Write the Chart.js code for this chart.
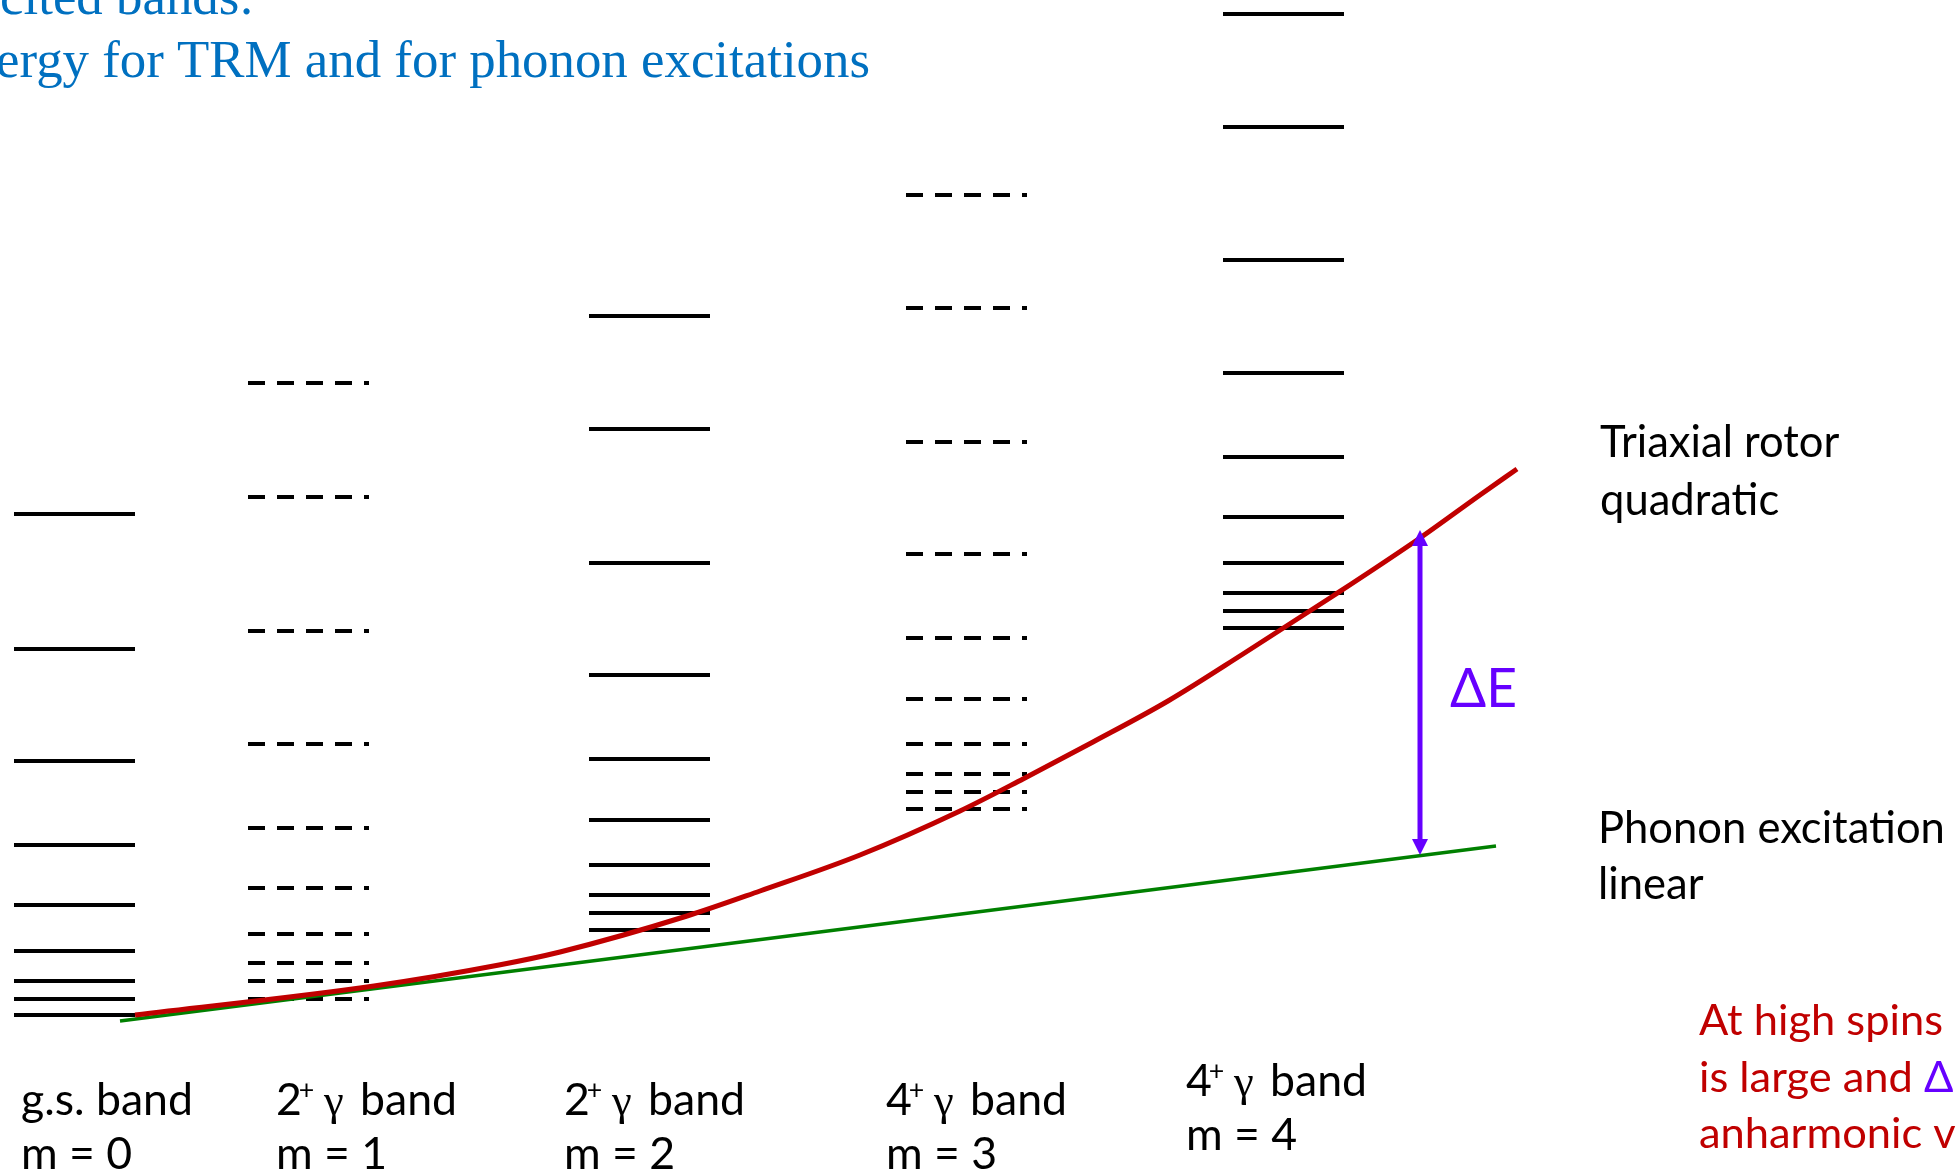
<!DOCTYPE html>
<html lang="en">
<head>
<meta charset="utf-8">
<title>Triaxial rotor vs phonon excitation</title>
<script src="https://cdn.jsdelivr.net/npm/chart.js@4.4.1/dist/chart.umd.min.js"></script>
<style>
  html, body { margin: 0; padding: 0; background: #fff; overflow: hidden; }
  #holder { width: 1956px; height: 1175px; }
</style>
</head>
<body>
<div id="holder"><canvas id="levels" width="1956" height="1175"></canvas></div>
<script>
// bands (columns) of the level scheme
var bandNames = ['g.s. band', '2+ γ band', '2+ γ band', '4+ γ band', '4+ γ band'];
var bandM = [0, 1, 2, 3, 4];
var bandCenter = [0.745, 3.085, 6.495, 9.665, 12.835];
var bandDashed = [false, true, false, true, false];

// level energies (arb. units), bottom to top
var levels0 = [0.00, 0.16, 0.34, 0.64, 1.10, 1.70, 2.54, 3.66, 5.01];
var levels1 = [0.16, 0.34, 0.52, 0.81, 1.27, 1.87, 2.71, 3.84, 5.18, 6.32];
var levels2 = [0.85, 1.02, 1.20, 1.50, 1.95, 2.56, 3.40, 4.52, 5.86, 6.99];
var levels3 = [2.06, 2.23, 2.41, 2.71, 3.16, 3.77, 4.61, 5.73, 7.07, 8.20];
var levels4 = [3.87, 4.04, 4.22, 4.52, 4.98, 5.58, 6.42, 7.55, 8.88, 10.01];
var bandLevels = [levels0, levels1, levels2, levels3, levels4];

// phonon excitation (linear) and triaxial rotor (quadratic) curves
var phononX = [1.20, 14.96];
var phononE = [-0.06, 1.69];
var rotorX = [1.35, 3.74, 4.99, 5.60, 6.87, 7.60, 8.60, 9.60, 10.23, 10.93, 11.68, 12.43, 13.33, 14.20, 14.80, 15.17];
var rotorE = [0.00, 0.29, 0.50, 0.63, 0.99, 1.24, 1.60, 2.04, 2.36, 2.73, 3.14, 3.61, 4.19, 4.77, 5.20, 5.46];

// Delta E arrow between the two curves
var arrowX = 14.20;
var arrowFrom = 1.60;
var arrowTo = 4.85;

var HALF = 0.605;
var SANS = "Lato, 'Open Sans', sans-serif";
var SERIF = "'Liberation Serif', 'Times New Roman', serif";

function levelData(center, levels) {
    var pts = [];
    for (var i = 0; i < levels.length; i++) {
        pts.push({x: center - HALF, y: levels[i]});
        pts.push({x: center + HALF, y: levels[i]});
        pts.push({x: center + HALF, y: null});
    }
    return pts;
}

function zip(xs, ys) {
    return xs.map(function (x, i) { return {x: x, y: ys[i]}; });
}

function fitSize(ctx, text, family, target) {
    ctx.font = '100px ' + family;
    return 100 * target / ctx.measureText(text).width;
}

var datasets = [];
datasets.push({
    label: 'Triaxial rotor', data: zip(rotorX, rotorE), borderColor: '#C00000',
    borderWidth: 5, cubicInterpolationMode: 'monotone', pointRadius: 0, order: 0
});
datasets.push({
    label: 'Phonon excitation', data: zip(phononX, phononE), borderColor: '#008000',
    borderWidth: 3.5, pointRadius: 0, order: 0
});
for (var b = 0; b < bandNames.length; b++) {
    datasets.push({
        label: bandNames[b] + ' m = ' + bandM[b],
        data: levelData(bandCenter[b], bandLevels[b]),
        borderColor: '#000', borderWidth: 4, borderCapStyle: 'butt',
        borderDash: bandDashed[b] ? [17, 12] : [], spanGaps: false,
        pointRadius: 0, order: 1
    });
}

var annotations = {
    id: 'annotations',
    afterDatasetsDraw: function (chart) {
        var ctx = chart.ctx, xs = chart.scales.x, ys = chart.scales.y;
        ctx.save();

        // Delta E double arrow
        var ax = xs.getPixelForValue(arrowX);
        var yTop = ys.getPixelForValue(arrowTo), yBot = ys.getPixelForValue(arrowFrom);
        ctx.strokeStyle = '#6600FF';
        ctx.fillStyle = '#6600FF';
        ctx.lineWidth = 5;
        ctx.beginPath();
        ctx.moveTo(ax, yTop + 12);
        ctx.lineTo(ax, yBot - 12);
        ctx.stroke();
        ctx.beginPath();
        ctx.moveTo(ax, yTop); ctx.lineTo(ax - 8, yTop + 16); ctx.lineTo(ax + 8, yTop + 16); ctx.closePath();
        ctx.moveTo(ax, yBot); ctx.lineTo(ax - 8, yBot - 16); ctx.lineTo(ax + 8, yBot - 16); ctx.closePath();
        ctx.fill();

        ctx.textBaseline = 'alphabetic';
        ctx.textAlign = 'left';

        // Delta E label
        var sDE = fitSize(ctx, 'ΔE', SANS, 67);
        ctx.font = sDE + 'px ' + SANS;
        ctx.fillText('ΔE', 1450, 707);

        // title lines (cut by the slide edge)
        var sT = fitSize(ctx, 'for TRM and for phonon excitations', SERIF, 768);
        ctx.font = sT + 'px ' + SERIF;
        ctx.fillStyle = '#0070C0';
        ctx.textAlign = 'right';
        ctx.fillText('excited bands:', 254, 14);
        ctx.fillText('energy for TRM and for phonon excitations', 870, 77);
        ctx.textAlign = 'left';

        // curve labels
        var sR = fitSize(ctx, 'Phonon excitation', SANS, 347);
        ctx.font = sR + 'px ' + SANS;
        ctx.fillStyle = '#000';
        ctx.fillText('Triaxial rotor', 1600, 457);
        ctx.fillText('quadratic', 1600, 515);
        ctx.fillText('Phonon excitation', 1598, 843);
        ctx.fillText('linear', 1598, 899);

        // band labels
        var sB = fitSize(ctx, 'g.s. band', SANS, 172);
        var labelLeft = [21, 276, 564, 886, 1186];
        var labelBase = [1115, 1115, 1115, 1115, 1096];
        for (var i = 0; i < bandNames.length; i++) {
            var x0 = labelLeft[i], y0 = labelBase[i];
            var m = bandNames[i].match(/^(\d)\+ γ (.*)$/);
            ctx.font = sB + 'px ' + SANS;
            if (m) {
                ctx.fillText(m[1], x0, y0);
                var w2 = ctx.measureText(m[1]).width;
                ctx.font = (sB * 0.6) + 'px ' + SANS;
                ctx.fillText('+', x0 + w2 - 3, y0 - sB * 0.36);
                ctx.font = sB + 'px ' + SERIF;
                ctx.fillText('γ', x0 + 48, y0);
                ctx.font = sB + 'px ' + SANS;
                ctx.fillText(m[2], x0 + 84, y0);
            } else {
                ctx.fillText(bandNames[i], x0, y0);
            }
            ctx.fillText('m = ' + bandM[i], x0, y0 + 54);
        }

        // conclusion text, running off the right edge
        var sC = fitSize(ctx, 'At high spins', SANS, 244);
        ctx.font = sC + 'px ' + SANS;
        ctx.fillStyle = '#C00000';
        ctx.fillText('At high spins', 1699, 1035);
        ctx.fillText('is large and ', 1699, 1092);
        var wl = ctx.measureText('is large and ').width;
        ctx.fillStyle = '#6600FF';
        ctx.fillText('ΔE', 1699 + wl, 1092);
        ctx.fillStyle = '#C00000';
        ctx.fillText('anharmonic vibrations', 1699, 1148);

        ctx.restore();
    }
};

new Chart(document.getElementById('levels'), {
    type: 'line',
    data: { datasets: datasets },
    options: {
        responsive: false,
        animation: false,
        devicePixelRatio: 1,
        layout: { padding: 0 },
        plugins: { legend: { display: false }, tooltip: { enabled: false } },
        elements: { line: { tension: 0 } },
        scales: {
            x: { type: 'linear', min: 0, max: 19.56, display: false },
            y: { type: 'linear', min: -1.6, max: 10.15, display: false }
        }
    },
    plugins: [annotations]
});
</script>
</body>
</html>
